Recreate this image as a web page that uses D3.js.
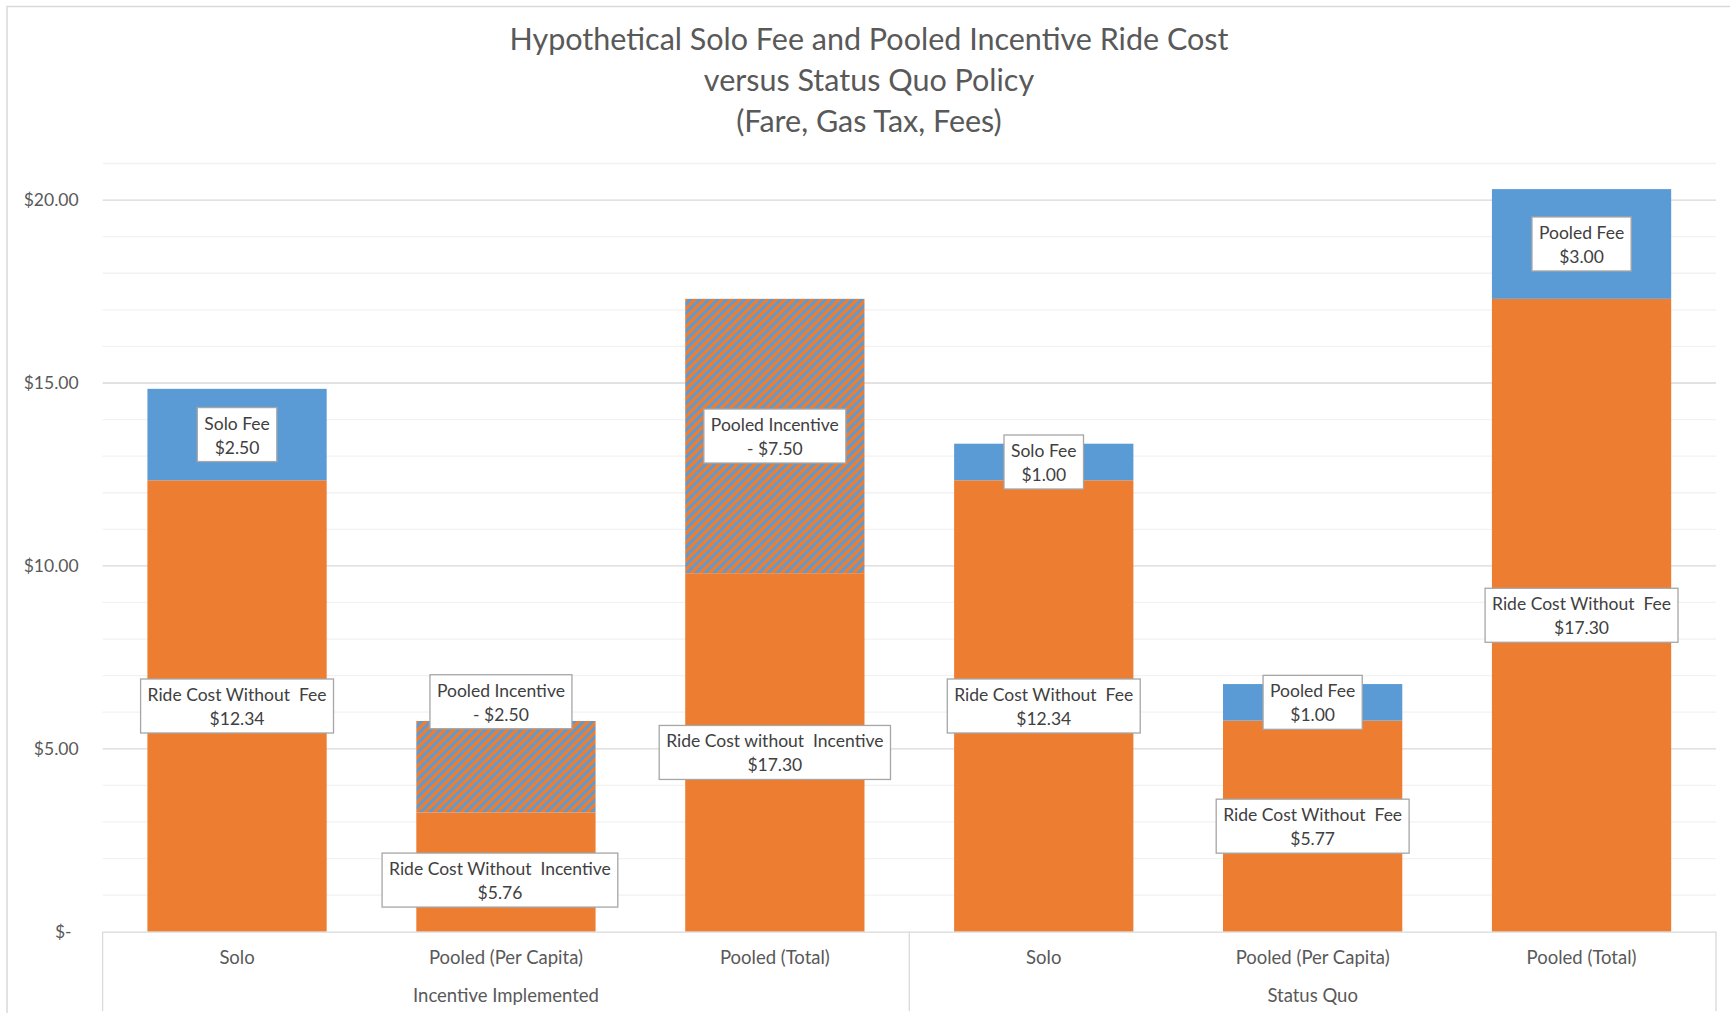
<!DOCTYPE html>
<html>
<head>
<meta charset="utf-8">
<script src="https://cdn.jsdelivr.net/npm/d3@7"></script>
<style>
  body { margin: 0; background: #fff; }
  svg text { font-family: Lato, "Open Sans", sans-serif; }
</style>
</head>
<body>
<div id="chart"></div>
<script>
// chart values
var titleLines = ['Hypothetical Solo Fee and Pooled Incentive Ride Cost', 'versus Status Quo Policy', '(Fare, Gas Tax, Fees)'];
var groups = ['Incentive Implemented', 'Status Quo'];
var categories = ['Solo', 'Pooled (Per Capita)', 'Pooled (Total)', 'Solo', 'Pooled (Per Capita)', 'Pooled (Total)'];
var baseCost = [12.34, 5.76, 17.30, 12.34, 5.77, 17.30];
var adjustment = [2.50, -2.50, -7.50, 1.00, 1.00, 3.00];
var baseNames = ['Ride Cost Without  Fee', 'Ride Cost Without  Incentive', 'Ride Cost without  Incentive',
                 'Ride Cost Without  Fee', 'Ride Cost Without  Fee', 'Ride Cost Without  Fee'];
var adjNames = ['Solo Fee', 'Pooled Incentive', 'Pooled Incentive', 'Solo Fee', 'Pooled Fee', 'Pooled Fee'];
var yTicks = [0, 5, 10, 15, 20];

// label nudges (px) where the callouts were dragged off centre
var baseShift = [[0, 0], [-6, 8], [0, 0], [0, 0], [0, 0], [0, 0]];
var adjShift = [[0, 0], [-5, -65], [0, 0], [0, 0], [0, 0], [0, 0]];

var W = 1730, H = 1013;
var orange = '#ED7D31', blue = '#5B9BD5';

var svg = d3.select('#chart').append('svg')
    .attr('width', W)
    .attr('height', H);

// chart area border
svg.append('rect')
    .attr('x', 7).attr('y', 6.5)
    .attr('width', W + 10).attr('height', H + 10)
    .style('fill', '#fff')
    .style('stroke', '#D9D9D9')
    .style('stroke-width', 1.5);

// hatch for the incentive part
var defs = svg.append('defs');
var pat = defs.append('pattern')
    .attr('id', 'hatch')
    .attr('patternUnits', 'userSpaceOnUse')
    .attr('width', 9).attr('height', 9);
pat.append('rect').attr('width', 9).attr('height', 9).style('fill', orange);
pat.append('path')
    .attr('d', 'M-1,10 L10,-1 M-3,3 L3,-3 M6,12 L12,6')
    .style('stroke', blue)
    .style('stroke-width', 3);

var margin = {left: 102.6, right: 14, top: 163.5, bottom: 81.3};
var x = d3.scaleBand()
    .domain(d3.range(categories.length))
    .range([margin.left, W - margin.right])
    .paddingInner(1 / 3)
    .paddingOuter(1 / 6);
var y = d3.scaleLinear()
    .domain([0, 21])
    .range([H - margin.bottom, margin.top]);

// title
svg.append('g').selectAll('text')
    .data(titleLines)
  .enter().append('text')
    .attr('x', 869)
    .attr('y', function(d, i) { return 50 + i * 41; })
    .attr('text-anchor', 'middle')
    .style('font-size', '30.5px')
    .style('fill', '#595959')
    .text(function(d) { return d; });

// gridlines, minor then major
svg.append('g').selectAll('line')
    .data(d3.range(1, 22).filter(function(v) { return v % 5 !== 0; }))
  .enter().append('line')
    .attr('x1', margin.left).attr('x2', W - margin.right)
    .attr('y1', function(d) { return y(d); })
    .attr('y2', function(d) { return y(d); })
    .style('stroke', '#F2F2F2')
    .style('stroke-width', 1.3);

svg.append('g').selectAll('line')
    .data(yTicks.slice(1))
  .enter().append('line')
    .attr('x1', margin.left).attr('x2', W - margin.right)
    .attr('y1', function(d) { return y(d); })
    .attr('y2', function(d) { return y(d); })
    .style('stroke', '#D9D9D9')
    .style('stroke-width', 1.3);

// y axis labels
var yAxis = svg.append('g')
    .attr('transform', 'translate(' + margin.left + ',0)')
    .call(d3.axisLeft(y)
        .tickValues(yTicks)
        .tickSize(0)
        .tickPadding(24)
        .tickFormat(function(d) { return d === 0 ? '$-' : '$' + d.toFixed(2); }));
yAxis.select('.domain').remove();
yAxis.selectAll('text')
    .style('font-size', '17.5px')
    .style('font-family', 'Lato')
    .style('fill', '#595959')
    .attr('dx', function(d) { return d === 0 ? -7 : 0; });

// bars
var bars = svg.append('g');
categories.forEach(function(c, i) {
    var b = baseCost[i], a = adjustment[i];
    var solidTop = a < 0 ? b + a : b;
    var top = a < 0 ? b : b + a;

    bars.append('rect')
        .attr('x', x(i)).attr('width', x.bandwidth())
        .attr('y', y(solidTop))
        .attr('height', y(0) - y(solidTop))
        .style('fill', orange);

    bars.append('rect')
        .attr('x', x(i)).attr('width', x.bandwidth())
        .attr('y', y(top))
        .attr('height', y(solidTop) - y(top))
        .style('fill', a < 0 ? 'url(#hatch)' : blue);
});

// x axis
var xAxis = svg.append('g')
    .attr('transform', 'translate(0,' + y(0) + ')')
    .call(d3.axisBottom(x)
        .tickSize(0)
        .tickSizeOuter(0)
        .tickPadding(19)
        .tickFormat(function(i) { return categories[i]; }));
xAxis.select('.domain')
    .style('stroke', '#D9D9D9')
    .style('stroke-width', 1.3);
xAxis.selectAll('text')
    .style('font-size', '18.5px')
    .style('font-family', 'Lato')
    .style('fill', '#595959');

var half = (x.step() - x.bandwidth()) / 2;
var edges = [x.range()[0], x(3) - half, x.range()[1]];
svg.append('g').selectAll('line')
    .data(edges)
  .enter().append('line')
    .attr('x1', function(d) { return d; })
    .attr('x2', function(d) { return d; })
    .attr('y1', y(0)).attr('y2', H - 2)
    .style('stroke', '#D9D9D9')
    .style('stroke-width', 1.3);

svg.append('g').selectAll('text')
    .data(groups)
  .enter().append('text')
    .attr('x', function(d, g) { return (edges[g] + edges[g + 1]) / 2; })
    .attr('y', 1002)
    .attr('text-anchor', 'middle')
    .style('font-size', '18.5px')
    .style('fill', '#595959')
    .text(function(d) { return d; });

// callout labels
function money(v) {
    return (v < 0 ? '- $' : '$') + Math.abs(v).toFixed(2);
}

function callout(cx, cy, name, value) {
    var g = svg.append('g');
    var box = g.append('rect')
        .style('fill', '#fff')
        .style('stroke', '#A6A6A6')
        .style('stroke-width', 1.3);
    var t1 = g.append('text')
        .attr('x', cx).attr('y', cy - 5)
        .attr('text-anchor', 'middle')
        .style('white-space', 'pre')
        .style('font-size', '17.5px')
        .style('fill', '#404040')
        .text(name);
    var t2 = g.append('text')
        .attr('x', cx).attr('y', cy + 19)
        .attr('text-anchor', 'middle')
        .style('font-size', '17.5px')
        .style('fill', '#404040')
        .text(value);
    var w = Math.max(t1.node().getComputedTextLength(), t2.node().getComputedTextLength()) + 14;
    box.attr('x', cx - w / 2).attr('y', cy - 27)
        .attr('width', w).attr('height', 54);
}

categories.forEach(function(c, i) {
    var b = baseCost[i], a = adjustment[i];
    var solidTop = a < 0 ? b + a : b;
    var top = a < 0 ? b : b + a;
    var cx = x(i) + x.bandwidth() / 2;
    callout(cx + baseShift[i][0], y(solidTop / 2) + baseShift[i][1], baseNames[i], money(b));
    callout(cx + adjShift[i][0], y((solidTop + top) / 2) + adjShift[i][1], adjNames[i], money(a));
});
</script>
</body>
</html>
